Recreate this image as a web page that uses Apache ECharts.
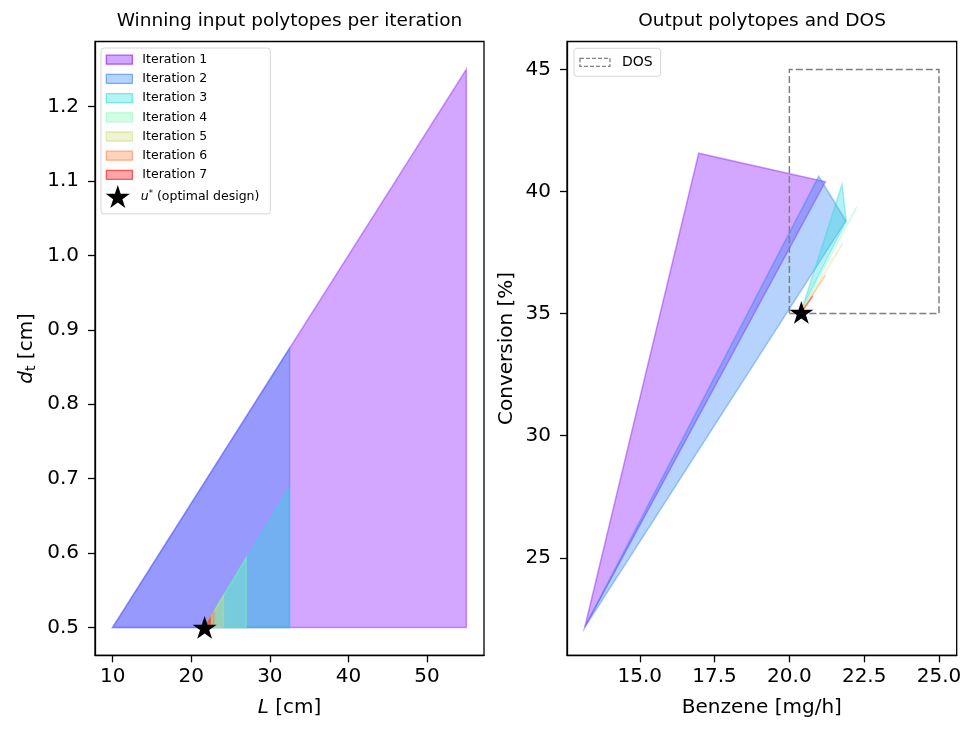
<!DOCTYPE html>
<html><head><meta charset="utf-8">
<script src="https://cdn.jsdelivr.net/npm/echarts@6/dist/echarts.min.js"></script>
<style>html,body{margin:0;padding:0;background:#fff}#c{width:977px;height:737px}</style>
</head><body><div id="c"></div>
<script>
// ---------- data ----------
const iterNames = ['Iteration 1','Iteration 2','Iteration 3','Iteration 4','Iteration 5','Iteration 6','Iteration 7'];
const iterColors = [[128,0,255],[43,128,246],[43,221,221],[128,255,180],[212,221,128],[255,128,66],[255,0,0]];
// winning input polytopes (L [cm], d_t [cm])
const inputIter1 = [[10,0.5],[55,1.25],[55,0.5]];
const inputIter2 = [[10,0.5],[32.5,0.875],[32.5,0.5]];
const inputIter3 = [[21.7,0.5],[32.5,0.688],[32.5,0.5]];
const inputIter4 = [[21.7,0.5],[27.0,0.594],[27.0,0.5]];
const inputIter5 = [[21.7,0.5],[24.1,0.543],[24.1,0.5]];
const inputIter6 = [[21.7,0.5],[22.9,0.521],[22.9,0.5]];
const inputIter7 = [[21.7,0.5],[22.4,0.512],[22.4,0.5]];
// output polytopes (Benzene [mg/h], Conversion [%])
const outputIter1 = [[13.16,22.15],[16.97,41.57],[21.2,40.4]];
const outputIter2 = [[13.16,22.15],[20.98,40.62],[21.89,38.8]];
const outputIter3 = [[20.45,35.3],[21.76,40.3],[21.9,38.79]];
const outputIter4 = [[20.43,35.2],[22.25,39.37],[22.18,39.2]];
const outputIter5 = [[20.42,35.15],[21.78,37.87],[21.72,37.75]];
const outputIter6 = [[20.42,35.1],[21.2,36.57],[21.15,36.48]];
const outputIter7 = [[20.42,35.08],[20.78,35.72],[20.75,35.65]];
const uStarInput = [21.7, 0.5];
const uStarOutput = [20.4, 35.05];
const dosBox = [[20,35],[25,35],[25,45],[20,45]];
// tick values
const leftXTicks = [10,20,30,40,50];
const leftYTicks = [0.5,0.6,0.7,0.8,0.9,1.0,1.1,1.2];
const rightXTicks = [15,17.5,20,22.5,25];
const rightYTicks = [25,30,35,40,45];

const inputPolys = [inputIter1,inputIter2,inputIter3,inputIter4,inputIter5,inputIter6,inputIter7];
const outputPolys = [outputIter1,outputIter2,outputIter3,outputIter4,outputIter5,outputIter6,outputIter7];

// ---------- helpers ----------
const FONT = 'DejaVu Sans';
const STAR = 'path://M0,-100 L22.45,-30.9 L95.1,-30.9 L36.33,11.8 L58.78,80.9 L0,38.2 L-58.78,80.9 L-36.33,11.8 L-95.1,-30.9 L-22.45,-30.9 Z';
const rgba = (c,a) => `rgba(${c[0]},${c[1]},${c[2]},${a})`;
const FILL_A = 0.35, EDGE_A = 0.4;

function extent(pointsList, idx) {
  let lo = Infinity, hi = -Infinity;
  pointsList.forEach(pts => pts.forEach(p => { lo = Math.min(lo, p[idx]); hi = Math.max(hi, p[idx]); }));
  const m = (hi - lo) * 0.05;
  return [lo - m, hi + m];
}
const lx = extent(inputPolys, 0), ly = extent(inputPolys, 1);
const rx = extent(outputPolys.concat([dosBox]), 0), ry = extent(outputPolys.concat([dosBox]), 1);

function polySeries(name, verts, xi, fill, stroke, lw, dash) {
  return {
    type: 'custom', name: name, xAxisIndex: xi, yAxisIndex: xi,
    data: verts, encode: {x: 0, y: 1}, silent: true, animation: false,
    itemStyle: {color: fill, borderColor: stroke},
    renderItem: function (params, api) {
      if (params.dataIndex !== 0) return null;
      const pts = verts.map(v => api.coord(v));
      return {type: 'polygon', shape: {points: pts},
        style: {fill: fill, stroke: stroke, lineWidth: lw, lineDash: dash || null}};
    }
  };
}

function axisCommon(ticks, fmt, margin) {
  return {
    axisLine: {show: true, lineStyle: {color: '#000', width: 1.3}},
    axisTick: {show: true, inside: false, length: 7, lineStyle: {color: '#000', width: 1.3}, customValues: ticks},
    axisLabel: {customValues: ticks, formatter: fmt, fontSize: 20, color: '#000', fontFamily: FONT, margin: margin},
    splitLine: {show: false}
  };
}

const series = [];
inputPolys.forEach((p, i) => series.push(polySeries(iterNames[i], p, 0, rgba(iterColors[i], FILL_A), rgba(iterColors[i], EDGE_A), 1.5)));
series.push({type: 'scatter', name: 'u* (optimal design)', xAxisIndex: 0, yAxisIndex: 0, data: [uStarInput],
  symbol: STAR, symbolSize: 24, symbolKeepAspect: true, itemStyle: {color: '#000', opacity: 1}, z: 10, silent: true, animation: false});
outputPolys.forEach((p, i) => series.push(polySeries(iterNames[i], p, 1, rgba(iterColors[i], FILL_A), rgba(iterColors[i], EDGE_A), 1.5)));
series.push(polySeries('DOS', dosBox, 1, 'rgba(0,0,0,0)', '#808080', 1.5, [7, 3]));
series.push({type: 'scatter', name: 'u* output', xAxisIndex: 1, yAxisIndex: 1, data: [uStarOutput],
  symbol: STAR, symbolSize: 24, symbolKeepAspect: true, itemStyle: {color: '#000', opacity: 1}, z: 10, silent: true, animation: false});

const richSmall = {
  i: {fontStyle: 'italic', fontSize: 12.5, fontFamily: FONT, color: '#000'},
  s: {fontSize: 8.5, fontFamily: FONT, color: '#000', padding: [0, 0, 6, 0]}
};

const option = {
  backgroundColor: '#fff',
  animation: false,
  title: [
    {text: 'Winning input polytopes per iteration', left: 289.5, top: 12, padding: 0, textAlign: 'center',
      textStyle: {fontSize: 18.5, fontWeight: 'normal', color: '#000', fontFamily: FONT}},
    {text: 'Output polytopes and DOS', left: 762, top: 12, padding: 0, textAlign: 'center',
      textStyle: {fontSize: 18.5, fontWeight: 'normal', color: '#000', fontFamily: FONT}}
  ],
  grid: [
    {left: 95, right: 493, top: 41.5, bottom: 81.7, show: true, borderColor: '#000', borderWidth: 1.3, backgroundColor: '#fff'},
    {left: 567, right: 20.3, top: 41.5, bottom: 81.7, show: true, borderColor: '#000', borderWidth: 1.3, backgroundColor: '#fff'}
  ],
  xAxis: [
    Object.assign({type: 'value', gridIndex: 0, min: lx[0], max: lx[1],
      name: '{i|L} [cm]', nameLocation: 'middle', nameGap: 42,
      nameTextStyle: {fontSize: 20, color: '#000', fontFamily: FONT,
        rich: {i: {fontStyle: 'italic', fontSize: 20, fontFamily: FONT, color: '#000'}}}},
      axisCommon(leftXTicks, v => String(Math.round(v)), 11)),
    Object.assign({type: 'value', gridIndex: 1, min: rx[0], max: rx[1],
      name: 'Benzene [mg/h]', nameLocation: 'middle', nameGap: 42,
      nameTextStyle: {fontSize: 20, color: '#000', fontFamily: FONT}},
      axisCommon(rightXTicks, v => v.toFixed(1), 11))
  ],
  yAxis: [
    Object.assign({type: 'value', gridIndex: 0, min: ly[0], max: ly[1],
      name: '{i|d}{s|t} [cm]', nameLocation: 'middle', nameGap: 57, nameRotate: 90,
      nameTextStyle: {fontSize: 20, color: '#000', fontFamily: FONT,
        rich: {i: {fontStyle: 'italic', fontSize: 20, fontFamily: FONT, color: '#000'},
               s: {fontSize: 14, fontFamily: FONT, color: '#000', padding: [9, 0, 0, 0]}}}},
      axisCommon(leftYTicks, v => v.toFixed(1), 16)),
    Object.assign({type: 'value', gridIndex: 1, min: ry[0], max: ry[1],
      name: 'Conversion [%]', nameLocation: 'middle', nameGap: 50, nameRotate: 90,
      nameTextStyle: {fontSize: 20, color: '#000', fontFamily: FONT}},
      axisCommon(rightYTicks, v => String(Math.round(v)), 16))
  ],
  legend: [
    {orient: 'vertical', left: 101, top: 48, padding: [4.7, 63, 32, 4.7], itemWidth: 26, itemHeight: 9, itemGap: 5.2,
      borderColor: '#d6d6d6', borderWidth: 1, borderRadius: 3, backgroundColor: 'rgba(255,255,255,0.85)',
      selectedMode: false, z: 20,
      textStyle: {fontSize: 12.5, lineHeight: 14, color: '#000', fontFamily: FONT, padding: [0, 0, 0, 5]},
      data: iterNames.map((n, i) => ({name: n, icon: 'rect',
        itemStyle: {color: rgba(iterColors[i], FILL_A), borderColor: rgba(iterColors[i], 0.6), borderWidth: 1.3}}))},
    {orient: 'vertical', left: 105.7, top: 185, padding: 0, itemWidth: 26, itemHeight: 23, selectedMode: false, z: 21,
      textStyle: {fontSize: 12.5, lineHeight: 14, color: '#000', fontFamily: FONT, padding: [0, 0, 0, 5], rich: richSmall},
      formatter: n => '{i|u}{s|*} (optimal design)',
      data: [{name: 'u* (optimal design)', icon: STAR, itemStyle: {color: '#000', opacity: 1}}]},
    {orient: 'vertical', left: 574, top: 48.3, padding: [6, 8, 6, 5.3], itemWidth: 30, itemHeight: 8,
      borderColor: '#d6d6d6', borderWidth: 1, borderRadius: 3, backgroundColor: 'rgba(255,255,255,0.85)',
      selectedMode: false, z: 20,
      textStyle: {fontSize: 14, lineHeight: 16, color: '#000', fontFamily: FONT, padding: [0, 0, 0, 7]},
      data: [{name: 'DOS', icon: 'rect', itemStyle: {color: 'rgba(0,0,0,0)', borderColor: '#808080', borderWidth: 1.3, borderType: [4, 2]}}]}
  ],
  series: series
};

const chart = echarts.init(document.getElementById('c'), null, {renderer: 'canvas', width: 977, height: 737});
chart.setOption(option);
</script>
</body></html>
